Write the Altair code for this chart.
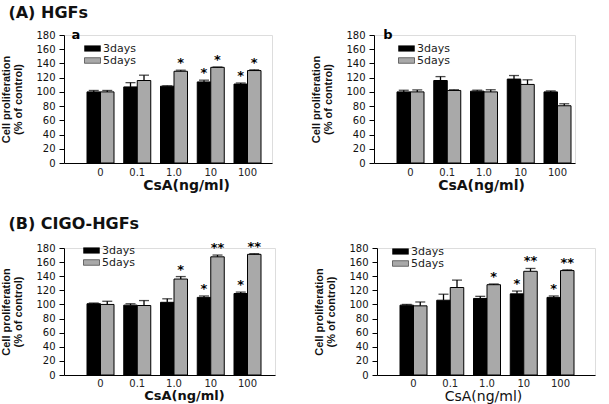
import altair as alt
import pandas as pd

cats = ["0", "0.1", "1.0", "10", "100"]
series = ["3days", "5days"]
colors = ["#000000", "#a9a9a9"]
y_ticks = [0, 20, 40, 60, 80, 100, 120, 140, 160, 180]

# (A) HGFs, panel a
a_3d = [100, 107, 108, 114, 111]
a_3d_err = [2, 6, 0.5, 2.5, 1.5]
a_3d_sig = ["", "", "", "*", "*"]
a_5d = [100, 116, 129, 134.5, 130]
a_5d_err = [2, 7.5, 1.5, 0.5, 1]
a_5d_sig = ["", "", "*", "*", "*"]

# (A) HGFs, panel b
b_3d = [100, 116, 101, 118, 100]
b_3d_err = [2.3, 5.5, 1.4, 5, 1.4]
b_3d_sig = ["", "", "", "", ""]
b_5d = [100, 102, 100, 110.5, 80.5]
b_5d_err = [2.8, 1, 3, 6.5, 2.8]
b_5d_sig = ["", "", "", "", ""]

# (B) CIGO-HGFs, left
c_3d = [101, 99, 103, 110, 115.5]
c_3d_err = [1, 2, 5, 2, 2]
c_3d_sig = ["", "", "", "*", "*"]
c_5d = [100, 98.5, 136, 167.5, 171]
c_5d_err = [4.5, 7, 3.5, 2.5, 1]
c_5d_sig = ["", "", "*", "**", "**"]

# (B) CIGO-HGFs, right
d_3d = [99, 106, 108.5, 115, 110]
d_3d_err = [1, 8.5, 3, 4, 2]
d_3d_sig = ["", "", "", "*", "*"]
d_5d = [98, 124, 128, 147, 148]
d_5d_err = [5.5, 10.5, 1, 4, 1]
d_5d_sig = ["", "", "*", "**", "**"]

STEP = 36.75
PI = 0.265
LEFT_GAP = 23


def make_df(v3, e3, s3, v5, e5, s5):
    rows = []
    for vals, errs, sigs, s in ((v3, e3, s3, series[0]), (v5, e5, s5, series[1])):
        for c, v, e, g in zip(cats, vals, errs, sigs):
            rows.append({"cat": c, "series": s, "value": v, "top": v + e, "sig": g})
    return pd.DataFrame(rows)


def panel(df, w, h, label, lx, ly, xtitle_weight="bold", xtitle_size=14,
          xtitle_x=None, label_pos=(12, 0), label_pad=4):
    po = (w / STEP - (5 - PI)) / 2
    span = STEP * (5 - PI)
    al = LEFT_GAP / (w - span)
    xscale = alt.Scale(paddingInner=PI, paddingOuter=po, align=al, round=False)
    xaxis_kw = dict(title="CsA(ng/ml)", labelAngle=0, ticks=False,
                    labelPadding=label_pad, titlePadding=1,
                    titleFontWeight=xtitle_weight,
                    domainColor="black", labelFont="DejaVu Sans",
                    labelFontSize=10, labelColor="#222",
                    titleFont="DejaVu Sans", titleFontSize=xtitle_size,
                    titleColor="#111")
    if xtitle_x is not None:
        xaxis_kw["titleX"] = xtitle_x
    xaxis = alt.Axis(**xaxis_kw)
    xscale_off = alt.Scale(paddingInner=0, paddingOuter=0)
    yscale = alt.Scale(domain=[0, 180], nice=False)
    yaxis = alt.Axis(values=y_ticks, title=["Cell proliferation", "(% of control)"],
                     grid=False, tickSize=5, labelPadding=4, domainColor="black",
                     tickColor="black", labelFont="DejaVu Sans", labelFontSize=10,
                     labelColor="#111", labelOverlap=False, titleFont="Liberation Sans",
                     titleFontSize=11, titleFontWeight="bold", titleLineHeight=12,
                     titlePadding=12, titleColor="#111")

    def X():
        return alt.X("cat:N", sort=cats, scale=xscale, axis=xaxis)

    def XO():
        return alt.XOffset("series:N", sort=series, scale=xscale_off)

    def Y(field):
        return alt.Y(field, type="quantitative", scale=yscale, axis=yaxis)

    base = alt.Chart(df)
    bars = base.mark_bar(stroke="black", strokeWidth=1).encode(
        x=X(), xOffset=XO(), y=Y("value"),
        color=alt.Color("series:N", sort=series,
                        scale=alt.Scale(domain=series, range=colors),
                        legend=alt.Legend(title=None, orient="none",
                                          legendX=lx, legendY=ly,
                                          symbolType="M-4,-1.4H4V1.4H-4Z",
                                          symbolSize=16, symbolStrokeColor="black",
                                          symbolStrokeWidth=0.5, symbolOpacity=1,
                                          labelFont="DejaVu Sans", labelFontSize=11,
                                          labelColor="#222", rowPadding=0,
                                          labelOffset=5, padding=0)),
    )
    errs = base.mark_rule(color="black", strokeWidth=1.3).encode(
        x=X(), xOffset=XO(), y=Y("value"), y2="top:Q")
    caps = base.mark_tick(color="black", thickness=1.3, size=10, orient="horizontal").encode(
        x=X(), xOffset=XO(), y=Y("top"))
    stars = base.mark_text(font="DejaVu Sans", fontSize=13, fontWeight="bold",
                           baseline="middle", dy=-7, color="black").encode(
        x=X(), xOffset=XO(), y=Y("top"), text="sig:N")
    layers = [bars, errs, caps, stars]
    if label:
        lab = alt.Chart(pd.DataFrame({"t": [label]})).mark_text(
            font="DejaVu Sans", fontSize=13, fontWeight="bold", color="black",
            align="center", baseline="middle").encode(
            x=alt.value(label_pos[0]), y=alt.value(label_pos[1]), text="t:N")
        layers.append(lab)
    return alt.layer(*layers).properties(width=w, height=h)


pa = panel(make_df(a_3d, a_3d_err, a_3d_sig, a_5d, a_5d_err, a_5d_sig), 208, 128, "a", 23, 8,
           xtitle_x=122)
pb = panel(make_df(b_3d, b_3d_err, b_3d_sig, b_5d, b_5d_err, b_5d_sig), 201, 128, "b", 27, 8,
           xtitle_size=14, xtitle_x=107, label_pos=(14, 0))
pc = panel(make_df(c_3d, c_3d_err, c_3d_sig, c_5d, c_5d_err, c_5d_sig), 211, 127, None, 22, -3,
           xtitle_size=13, xtitle_x=120, label_pad=3)
pd_ = panel(make_df(d_3d, d_3d_err, d_3d_sig, d_5d, d_5d_err, d_5d_sig), 218, 127, None, 18, -2,
            xtitle_weight="normal", xtitle_size=14, xtitle_x=106, label_pad=3)

title_kw = dict(anchor="start", font="DejaVu Sans", fontSize=16, fontWeight="bold",
                color="#111", offset=8, dx=8)

rowA = alt.hconcat(pa, pb, spacing=37,
                   title=alt.TitleParams("(A) HGFs", **title_kw)).resolve_scale(color="independent")
rowB = alt.hconcat(pc, pd_, spacing=37,
                   title=alt.TitleParams("(B) CIGO-HGFs", **title_kw)).resolve_scale(color="independent")

chart = alt.vconcat(rowA, rowB, spacing=23).resolve_scale(color="independent").properties(
    padding={"left": 0, "top": 4, "right": 0, "bottom": 0}
).configure_view(stroke=None).configure(background="white")

chart.save("out.html", embed_options={"renderer": "svg", "actions": False})
